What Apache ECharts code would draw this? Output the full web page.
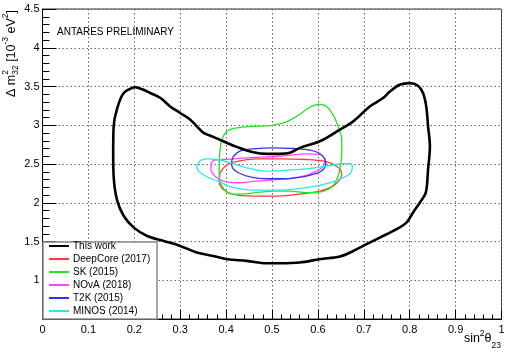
<!DOCTYPE html>
<html><head><meta charset="utf-8">
<script src="https://cdn.jsdelivr.net/npm/echarts/dist/echarts.min.js"></script>
<style>html,body{margin:0;padding:0;background:#fff}#c{width:512px;height:355px}</style>
</head><body><div id="c"></div>
<script>
const FONT = '"Liberation Sans", Arial, Helvetica, sans-serif';

// axis ranges / ticks
const xRange = [0, 1, 0.1];
const yRange = [0.5, 4.5, 0.5];

// legend entries
const seriesNames = ['This work', 'DeepCore (2017)', 'SK (2015)', 'NOvA (2018)', 'T2K (2015)', 'MINOS (2014)'];

// contour points [sin^2 theta23, dm2_32]
const thisWork = [[0.202,3.493],[0.220,3.458],[0.235,3.416],[0.257,3.351],[0.278,3.243],[0.300,3.158],[0.322,3.072],[0.336,2.986],[0.351,2.901],[0.372,2.850],[0.394,2.793],[0.423,2.721],[0.459,2.652],[0.489,2.631],[0.517,2.631],[0.539,2.644],[0.561,2.708],[0.604,2.793],[0.648,2.944],[0.677,3.050],[0.713,3.243],[0.742,3.351],[0.757,3.436],[0.778,3.522],[0.800,3.544],[0.818,3.510],[0.829,3.416],[0.836,3.243],[0.840,2.986],[0.844,2.729],[0.840,2.429],[0.835,2.130],[0.822,2.001],[0.807,1.872],[0.793,1.744],[0.764,1.636],[0.735,1.551],[0.706,1.465],[0.677,1.378],[0.648,1.306],[0.604,1.272],[0.561,1.229],[0.517,1.220],[0.489,1.220],[0.445,1.250],[0.402,1.272],[0.372,1.314],[0.336,1.358],[0.300,1.443],[0.264,1.507],[0.228,1.571],[0.199,1.679],[0.177,1.829],[0.162,2.043],[0.155,2.343],[0.154,2.644],[0.155,2.986],[0.162,3.201],[0.177,3.416],[0.202,3.493]];
const deepCore = [[0.387,2.387],[0.398,2.472],[0.416,2.523],[0.467,2.567],[0.517,2.567],[0.575,2.558],[0.612,2.536],[0.641,2.472],[0.652,2.365],[0.648,2.301],[0.633,2.215],[0.604,2.150],[0.554,2.108],[0.503,2.086],[0.459,2.086],[0.416,2.108],[0.394,2.172],[0.385,2.279],[0.387,2.387]];
const sk = [[0.604,3.272],[0.619,3.243],[0.633,3.137],[0.644,2.986],[0.652,2.815],[0.652,2.644],[0.649,2.472],[0.644,2.343],[0.635,2.236],[0.622,2.172],[0.604,2.137],[0.575,2.130],[0.539,2.150],[0.503,2.150],[0.474,2.137],[0.445,2.117],[0.416,2.108],[0.402,2.137],[0.391,2.215],[0.385,2.343],[0.385,2.515],[0.387,2.686],[0.391,2.815],[0.402,2.922],[0.423,2.966],[0.459,2.986],[0.496,2.995],[0.525,3.030],[0.554,3.115],[0.583,3.236],[0.604,3.272]];
const nova = [[0.367,2.494],[0.372,2.545],[0.394,2.558],[0.445,2.580],[0.517,2.600],[0.575,2.631],[0.604,2.622],[0.615,2.558],[0.612,2.472],[0.597,2.407],[0.568,2.343],[0.517,2.301],[0.467,2.279],[0.423,2.258],[0.394,2.279],[0.376,2.343],[0.367,2.429],[0.367,2.494]];
const t2k = [[0.416,2.600],[0.430,2.665],[0.459,2.696],[0.503,2.709],[0.546,2.700],[0.583,2.678],[0.604,2.635],[0.615,2.567],[0.617,2.494],[0.612,2.429],[0.597,2.378],[0.568,2.335],[0.532,2.310],[0.489,2.310],[0.452,2.335],[0.427,2.387],[0.414,2.451],[0.412,2.523],[0.416,2.600]];
const minos = [[0.336,2.472],[0.344,2.545],[0.358,2.567],[0.380,2.558],[0.409,2.515],[0.445,2.451],[0.489,2.407],[0.532,2.420],[0.575,2.438],[0.619,2.472],[0.655,2.506],[0.671,2.503],[0.675,2.451],[0.670,2.378],[0.655,2.323],[0.626,2.258],[0.575,2.194],[0.517,2.164],[0.459,2.164],[0.416,2.194],[0.387,2.266],[0.358,2.335],[0.340,2.408],[0.336,2.472]];

const allData = [thisWork, deepCore, sk, nova, t2k, minos];
const colors = ['#000000', '#ff3a3a', '#22e622', '#ff44ff', '#3434f0', '#22eaea'];
const widths = [2.6, 1.3, 1.3, 1.3, 1.3, 1.3];

const ctx = document.createElement('canvas').getContext('2d');
function tw(s, size) { ctx.font = size + 'px ' + FONT; return ctx.measureText(s).width; }

function buildPieces(pieces, mainSize, subSize) {
  const out = []; let cx = 0;
  for (const p of pieces) {
    if (p.stack) {
      const w1 = tw(p.sup, subSize), w2 = tw(p.sub, subSize);
      out.push({ type: 'text', x: cx, y: p.supDy, style: { text: p.sup, font: subSize + 'px ' + FONT, fill: '#000', textVerticalAlign: 'middle', verticalAlign: 'middle' } });
      out.push({ type: 'text', x: cx, y: p.subDy, style: { text: p.sub, font: subSize + 'px ' + FONT, fill: '#000', textVerticalAlign: 'middle', verticalAlign: 'middle' } });
      cx += Math.max(w1, w2);
    } else {
      const sz = p.small ? subSize : mainSize;
      out.push({ type: 'text', x: cx, y: p.dy || 0, style: { text: p.t, font: sz + 'px ' + FONT, fill: '#000', textVerticalAlign: 'middle', verticalAlign: 'middle' } });
      cx += tw(p.t, sz);
    }
  }
  return { children: out, width: cx };
}

const yTitle = buildPieces([
  { t: '\u0394 m' },
  { stack: true, sup: '2', sub: '32', supDy: -6, subDy: 4.5 },
  { t: ' [10' },
  { t: '-3', small: true, dy: -6 },
  { t: ' eV' },
  { t: '2', small: true, dy: -6 },
  { t: ']' }
], 12.5, 8.5);

const xTitle = buildPieces([
  { t: 'sin' },
  { t: '2', small: true, dy: -4.5 },
  { t: '\u03b8' },
  { t: '23', small: true, dy: 7.5 }
], 12.5, 8.5);

const chart = echarts.init(document.getElementById('c'), null, { renderer: 'canvas' });

const series = allData.map((d, i) => ({
  name: seriesNames[i],
  type: 'line',
  data: d,
  smooth: 0.35,
  symbol: 'none',
  showSymbol: false,
  lineStyle: { color: colors[i], width: widths[i] },
  itemStyle: { color: colors[i] },
  z: i === 0 ? 3 : 2,
  animation: false,
  silent: true
}));

const axisCommon = {
  axisLine: { show: true, onZero: false, lineStyle: { color: '#000', width: 1 } },
  splitLine: { show: true, lineStyle: { color: '#666', type: [1.5, 2.5], width: 1 } },
  minorSplitLine: { show: false }
};

chart.setOption({
  animation: false,
  backgroundColor: '#fff',
  grid: { left: 42.5, right: 10.5, top: 9, bottom: 36, show: true, borderColor: '#333', borderWidth: 1, containLabel: false, outerBoundsMode: 'none' },
  xAxis: Object.assign({}, axisCommon, {
    type: 'value', min: xRange[0], max: xRange[1], interval: xRange[2],
    axisTick: { inside: true, length: 9, lineStyle: { color: '#000' } },
    minorTick: { show: true, splitNumber: 5, length: 4.5, lineStyle: { color: '#000' } },
    axisLabel: { color: '#000', fontSize: 11, fontFamily: FONT, margin: 5, formatter: v => String(Math.round(v * 10) / 10) }
  }),
  yAxis: Object.assign({}, axisCommon, {
    type: 'value', min: yRange[0], max: yRange[1], interval: yRange[2],
    axisTick: { inside: true, length: 14, lineStyle: { color: '#000' } },
    minorTick: { show: true, splitNumber: 5, length: 7, lineStyle: { color: '#000' } },
    axisLabel: { color: '#000', fontSize: 11, fontFamily: FONT, margin: 3, formatter: v => (Math.abs(v - yRange[0]) < 1e-6 ? '' : String(Math.round(v * 10) / 10)) }
  }),
  legend: {
    show: true, orient: 'vertical', left: 48, top: 241, padding: 0,
    itemWidth: 20, itemHeight: 10, itemGap: 3,
    data: seriesNames,
    itemStyle: { opacity: 0 },
    textStyle: { color: '#000', fontSize: 10, fontFamily: FONT, padding: [0, 0, 0, -1] },
    selectedMode: false, z: 10
  },
  graphic: [
    { type: 'rect', shape: { x: 43, y: 242, width: 114, height: 77 }, style: { fill: '#fff', stroke: '#8a8a8a', lineWidth: 1.5 }, z: 9, silent: true },
    { type: 'text', x: 57, y: 32, style: { text: 'ANTARES PRELIMINARY', font: '10px ' + FONT, fill: '#000', textVerticalAlign: 'middle', verticalAlign: 'middle' }, z: 10 },
    { type: 'group', x: 11.5, y: 97, rotation: Math.PI / 2, scaleX: 87 / yTitle.width, children: yTitle.children, z: 10 },
    { type: 'group', x: 501 - xTitle.width, y: 338.5, children: xTitle.children, z: 10 }
  ],
  series: series
});
</script>
</body></html>
